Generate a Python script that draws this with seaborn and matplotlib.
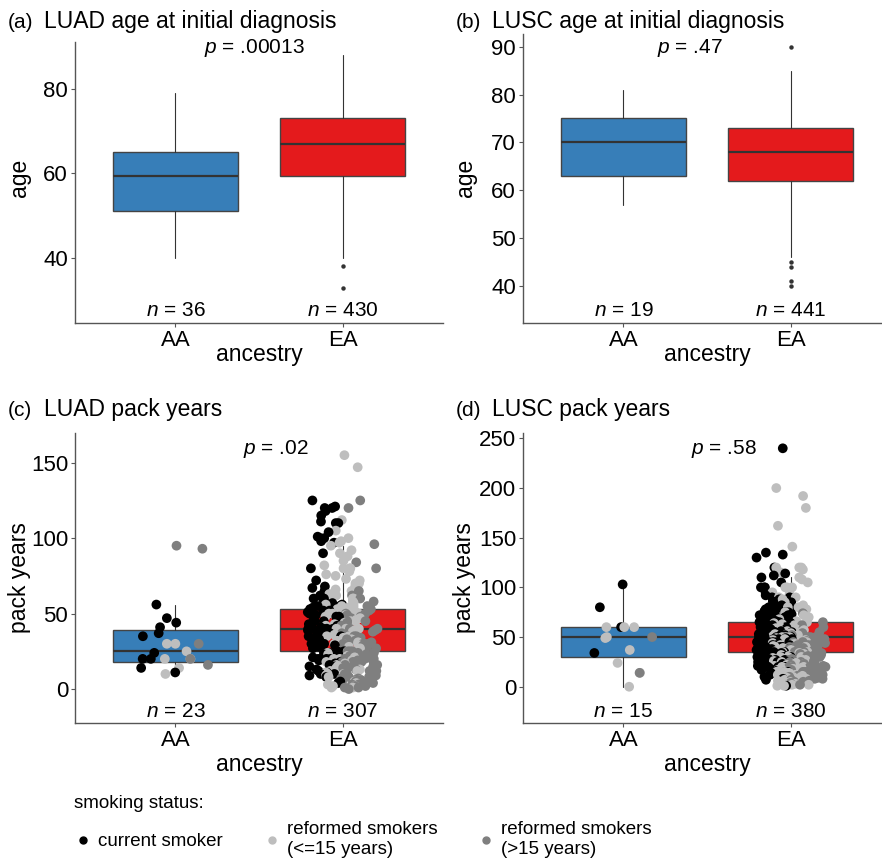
import numpy as np
import pandas as pd
import seaborn as sns
import matplotlib.pyplot as plt
from matplotlib.lines import Line2D
from matplotlib.colors import to_rgba

# categories and colours
ancestry = ['AA', 'EA']
box_colors = ['#377EB8', '#E41A1C']
status = ['current smoker', 'reformed smokers\n(<=15 years)', 'reformed smokers\n(>15 years)']
status_colors = ['#000000', '#BEBEBE', '#7F7F7F']

# box stats: q1, median, q3, lower whisker, upper whisker
age_luad_box = [[51, 59.5, 65, 40, 79], [59.3, 67, 73, 40, 88]]
age_luad_out = [[], [38, 33]]
age_lusc_box = [[63, 70, 75, 57, 81], [62, 68, 73, 46, 85]]
age_lusc_out = [[], [90, 45, 44, 41, 40]]
pack_luad_box = [[17.7, 25, 39, 10.6, 55.6], [25, 40, 53, 0, 95]]
pack_lusc_box = [[30, 50, 60, 0, 103], [35, 50, 65, 0, 110]]

# pack years per patient (estimated from the dots), per ancestry and smoking status
luad_aa_current = [56, 47, 44, 41, 37, 35, 24, 20, 20, 14, 11]
luad_aa_ref15 = [30, 30, 25, 20, 20, 14, 10]
luad_aa_ref_old = [95, 93, 30, 16, 20]
luad_ea_current = [125, 121, 120, 120, 118, 115, 111, 110, 110, 104, 101, 100, 100, 98, 97, 90,
                   80, 72, 68, 67, 65, 62, 60, 60, 60, 58, 57, 56, 55, 55, 54, 53, 52, 52, 51,
                   50, 50, 50, 50, 49, 48, 48, 47, 46, 45, 45, 45, 44, 43, 42, 41, 40, 40, 40,
                   40, 40, 39, 38, 37, 36, 35, 35, 34, 33, 32, 31, 30, 30, 30, 30, 29, 28, 27,
                   26, 25, 25, 24, 23, 22, 21, 20, 20, 20, 19, 18, 17, 16, 15, 15, 14, 13, 12,
                   11, 10, 10, 9, 8, 5, 4]
luad_ea_ref15 = [155, 147, 112, 105, 100, 98, 97, 95, 92, 90, 88, 85, 82, 80, 80, 80, 78, 76,
                 75, 73, 72, 70, 70, 68, 66, 65, 63, 62, 60, 60, 58, 57, 56, 55, 55, 54, 53,
                 52, 52, 51, 50, 50, 50, 50, 49, 48, 47, 46, 45, 45, 44, 43, 42, 41, 40, 40,
                 40, 39, 38, 37, 36, 35, 35, 34, 33, 32, 31, 30, 30, 30, 30, 29, 28, 27, 26,
                 25, 25, 24, 23, 22, 21, 20, 20, 20, 19, 18, 17, 16, 15, 15, 14, 13, 12, 12,
                 11, 10, 10, 9, 8, 7, 6, 5, 4, 3, 2, 1, 1, 2]
luad_ea_ref_old = [125, 120, 96, 84, 80, 65, 62, 60, 58, 55, 53, 52, 50, 50, 49, 48, 47, 45,
                   45, 44, 42, 41, 40, 40, 39, 38, 37, 36, 35, 35, 34, 33, 32, 31, 30, 30, 30,
                   30, 29, 28, 28, 27, 26, 25, 25, 25, 24, 23, 22, 22, 21, 20, 20, 20, 20, 19,
                   19, 18, 18, 17, 16, 16, 15, 15, 15, 14, 13, 13, 12, 12, 11, 10, 10, 10, 9,
                   9, 8, 8, 7, 7, 6, 6, 5, 5, 4, 4, 3, 3, 2, 2, 1, 1, 0, 3, 6, 12, 18, 24]

lusc_aa_current = [103, 80, 60, 34]
lusc_aa_ref15 = [60, 60, 60, 50, 49, 37, 24, 14, 0]
lusc_aa_ref_old = [50, 14]
lusc_ea_current = [240, 135, 133, 130, 120, 114, 112, 110, 105, 100, 100, 100, 95, 92, 90, 90,
                   88, 86, 85, 82, 80, 80, 80, 80, 78, 76, 75, 75, 73, 72, 70, 70, 70, 68, 66,
                   65, 65, 64, 63, 62, 61, 60, 60, 60, 60, 59, 58, 57, 56, 55, 55, 55, 54, 53,
                   52, 51, 50, 50, 50, 50, 50, 50, 49, 48, 48, 47, 46, 45, 45, 45, 45, 44, 43,
                   42, 42, 41, 40, 40, 40, 40, 40, 40, 39, 38, 38, 37, 36, 35, 35, 35, 34, 33,
                   32, 31, 30, 30, 30, 30, 30, 29, 28, 27, 26, 25, 25, 25, 24, 23, 22, 21, 20,
                   20, 20, 20, 19, 18, 17, 16, 15, 15, 14, 12, 10, 8, 7, 1, 55, 45, 35, 62, 48,
                   52, 38, 44, 58, 20, 22, 25, 27, 30, 32, 35, 37, 40, 42, 45, 47, 50, 52, 55,
                   57, 60, 62, 65, 67, 70, 72, 75, 77, 80, 30, 40, 50, 60, 45, 35, 55, 25, 65,
                   48]
lusc_ea_ref15 = [200, 192, 180, 162, 141, 120, 120, 120, 118, 115, 110, 108, 105, 100, 100, 100,
                 98, 95, 93, 90, 90, 88, 85, 82, 80, 80, 78, 76, 75, 72, 70, 70, 68, 66, 65, 64,
                 63, 62, 60, 60, 60, 59, 58, 57, 56, 55, 54, 53, 52, 51, 50, 50, 50, 49, 48, 47,
                 46, 45, 45, 44, 43, 42, 41, 40, 40, 40, 39, 38, 37, 36, 35, 35, 34, 33, 32, 31,
                 30, 30, 30, 29, 28, 27, 26, 25, 25, 24, 23, 22, 21, 20, 20, 20, 19, 18, 17, 16,
                 15, 15, 14, 13, 12, 11, 10, 10, 9, 8, 7, 6, 5, 5, 4, 3, 2, 2, 1, 1, 3, 6, 12,
                 18, 28, 33, 43, 47, 53, 57]
lusc_ea_ref_old = [74, 65, 62, 60, 58, 55, 54, 52, 50, 50, 50, 49, 48, 47, 46, 45, 45, 44, 43,
                   42, 41, 40, 40, 40, 39, 38, 37, 36, 35, 35, 34, 33, 32, 31, 30, 30, 30, 29,
                   28, 27, 26, 25, 25, 25, 24, 23, 22, 21, 20, 20, 20, 19, 18, 17, 16, 15, 15,
                   14, 13, 12, 11, 10, 10, 9, 8, 7, 6, 5, 5, 4, 3, 2, 28, 32, 36, 42, 22, 18,
                   12, 8]

n_age_luad = [36, 430]
n_age_lusc = [19, 441]
n_pack_luad = [23, 307]
n_pack_lusc = [15, 380]

sns.set_theme(style='white')
plt.rcParams['font.family'] = ['Liberation Sans', 'DejaVu Sans']
plt.rcParams['mathtext.fontset'] = 'custom'
plt.rcParams['mathtext.rm'] = 'Liberation Sans'
plt.rcParams['mathtext.it'] = 'Liberation Sans:italic'
plt.rcParams['text.color'] = 'black'
plt.rcParams['axes.labelcolor'] = 'black'
plt.rcParams['xtick.color'] = 'black'
plt.rcParams['ytick.color'] = 'black'
np.random.seed(7)

W, H = 882, 861
fig = plt.figure(figsize=(W / 100, H / 100), dpi=100)


def px_axes(l, t, r, b):
    return fig.add_axes([l / W, 1 - b / H, (r - l) / W, (b - t) / H])


def draw_box(ax, box, fliers):
    stats = [dict(q1=b[0], med=b[1], q3=b[2], whislo=b[3], whishi=b[4], fliers=f)
             for b, f in zip(box, fliers)]
    bp = ax.bxp(stats, positions=[0, 1], widths=0.75, patch_artist=True, showcaps=False,
                boxprops=dict(edgecolor='#444444', linewidth=1.0),
                medianprops=dict(color='#333333', linewidth=1.6),
                whiskerprops=dict(color='#333333', linewidth=0.8),
                flierprops=dict(marker='o', markersize=3.2, markerfacecolor='#333333',
                                markeredgecolor='none'))
    for patch, c in zip(bp['boxes'], box_colors):
        patch.set_facecolor(c)


def draw_points(ax, groups):
    # groups: list over status of [AA values, EA values]
    rows = []
    for (aa, ea), st in zip(groups, status):
        rows += [('AA', v, st) for v in aa] + [('EA', v, st) for v in ea]
    df = pd.DataFrame(rows, columns=['ancestry', 'pack', 'status'])
    df = df.sort_values('pack', kind='mergesort', ascending=False)
    k = len(ax.collections)
    sns.stripplot(data=df, x='ancestry', y='pack', hue='status', order=ancestry,
                  hue_order=status, palette=dict(zip(status, status_colors)),
                  jitter=0.11, size=7, linewidth=0, ax=ax, zorder=3, legend=False)
    # side-by-side split by smoking status (dodge)
    shifts = [-0.1, 0.0, 0.1]
    refs = np.array([to_rgba(c)[:3] for c in status_colors])
    for coll in ax.collections[k:]:
        xy = coll.get_offsets()
        fc = np.asarray(coll.get_facecolors())[:, :3]
        idx = np.argmin(((fc[:, None, :] - refs[None, :, :]) ** 2).sum(-1), axis=1)
        xy[:, 0] += np.array(shifts)[idx]
        coll.set_offsets(xy)


def style(ax, ylim, yticks, nvals, ny, ptxt, px, py):
    ax.set_xlim(-0.6, 1.6)
    ax.set_ylim(*ylim)
    ax.set_yticks(yticks)
    ax.set_xticks([0, 1], ancestry)
    ax.set_xlabel('')
    ax.set_ylabel('')
    for s in ['top', 'right']:
        ax.spines[s].set_visible(False)
    for s in ['left', 'bottom']:
        ax.spines[s].set_color('#555555')
        ax.spines[s].set_linewidth(1.0)
    ax.tick_params(axis='both', labelsize=16, length=3, width=0.8, color='#555555',
                   pad=2, left=True, bottom=True, labelcolor='black')
    for i, n in enumerate(nvals):
        ax.text(i, ny, r'$n$ = %d' % n, ha='center', va='center', fontsize=15)
    ax.text(px, py, r'$p$ = ' + ptxt, ha='center', va='center', fontsize=15)


# (a) LUAD age
ax_a = px_axes(75, 42, 443, 323)
draw_box(ax_a, age_luad_box, age_luad_out)
style(ax_a, (24.6, 91.1), [40, 60, 80], n_age_luad, 27.6, '.00013', 0.47, 89.7)

# (b) LUSC age
ax_b = px_axes(523, 34, 891, 323)
draw_box(ax_b, age_lusc_box, age_lusc_out)
style(ax_b, (32.27, 92.65), [40, 50, 60, 70, 80, 90], n_age_lusc, 34.9, '.47', 0.4, 89.7)

# (c) LUAD pack years
ax_c = px_axes(75, 433, 443, 723)
draw_box(ax_c, pack_luad_box, [[], []])
draw_points(ax_c, [[luad_aa_current, luad_ea_current], [luad_aa_ref15, luad_ea_ref15],
                   [luad_aa_ref_old, luad_ea_ref_old]])
style(ax_c, (-22.5, 169.7), [0, 50, 100, 150], n_pack_luad, -14.6, '.02', 0.6, 158.9)

# (d) LUSC pack years
ax_d = px_axes(523, 433, 891, 723)
draw_box(ax_d, pack_lusc_box, [[], []])
draw_points(ax_d, [[lusc_aa_current, lusc_ea_current], [lusc_aa_ref15, lusc_ea_ref15],
                   [lusc_aa_ref_old, lusc_ea_ref_old]])
style(ax_d, (-36.5, 255.4), [0, 50, 100, 150, 200, 250], n_pack_lusc, -24.5, '.58', 0.6, 239.5)

# titles, tags and axis labels
for tag, title, x0, x1, yb in [('(a)', 'LUAD age at initial diagnosis', 8, 44, 28),
                               ('(b)', 'LUSC age at initial diagnosis', 456, 492, 28),
                               ('(c)', 'LUAD pack years', 8, 44, 416),
                               ('(d)', 'LUSC pack years', 456, 492, 416)]:
    fig.text(x0 / W, 1 - yb / H, tag, fontsize=15, va='baseline', ha='left')
    fig.text(x1 / W, 1 - yb / H, title, fontsize=16.5, va='baseline', ha='left')

for lab, x, y in [('age', 20, 178), ('age', 466, 178),
                  ('pack years', 20, 578), ('pack years', 465, 578)]:
    fig.text(x / W, 1 - y / H, lab, rotation=90, ha='center', va='center', fontsize=16.5)
for x, y in [(259, 355), (707, 355), (259, 764), (707, 764)]:
    fig.text(x / W, 1 - y / H, 'ancestry', ha='center', va='center', fontsize=16.5)

# legend
handles = [Line2D([], [], marker='o', ls='', color=c, markersize=5) for c in status_colors]
leg = fig.legend(handles, status, loc='upper left', bbox_to_anchor=(74 / W, 1 - 795 / H),
                 ncol=3, frameon=False, title='smoking status:', alignment='left',
                 fontsize=13.5, title_fontsize=13.5, handletextpad=0.3, columnspacing=2.1,
                 handlelength=1.0, borderaxespad=0, borderpad=0)

fig.savefig('out.png', dpi=100)
